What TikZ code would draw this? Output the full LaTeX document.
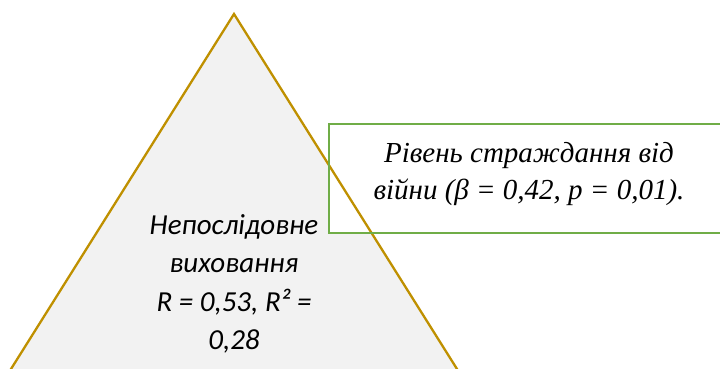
\documentclass[tikz,border=0pt]{standalone}
\usepackage{fontspec}
\setmainfont{Liberation Serif}
\newfontfamily\calibri{Carlito}
\usetikzlibrary{positioning}
\definecolor{pyramidgold}{HTML}{BF9000}
\definecolor{pyramidfill}{HTML}{F2F2F2}
\definecolor{boxgreen}{HTML}{70AD47}

\begin{document}
\begin{tikzpicture}[
    x=1pt,y=-1pt,
    pyramid/.style={draw=pyramidgold,line width=2.3pt,line join=miter},
    factorbox/.style={draw=boxgreen,line width=2.3pt},
    pyramidtext/.style={align=center,inner sep=0pt,
                        font=\calibri\itshape\fontsize{29}{38.5}\selectfont},
    factortext/.style={align=center,inner sep=0pt,
                       font=\itshape\fontsize{29}{37}\selectfont}
]
  \useasboundingbox (0,0) rectangle (720,369);
  \clip (0,0) rectangle (720,369);

  % Pyramid corners (base runs below the page edge).
  \coordinate (apex)  at (234, 14);
  \coordinate (left)  at (0, 386.5);
  \coordinate (right) at (468, 386.5);

  % Box corners (right side runs past the page edge).
  \coordinate (boxnw) at (329,124);
  \coordinate (boxse) at (730,233);

  \fill[pyramidfill] (apex)--(right)--(left)--cycle;
  \fill[white] (boxnw) rectangle (boxse);
  \draw[pyramid] (apex)--(right)--(left)--cycle;
  \draw[factorbox] (boxnw) rectangle (boxse);

  \node[pyramidtext] (model) at (234,284)
    {Непослідовне\\виховання\\R = 0,53, R² =\\0,28};
  \node[factortext] (factor) at (529,174)
    {Рівень страждання від\\війни (β = 0,42, p = 0,01).};
\end{tikzpicture}
\end{document}
